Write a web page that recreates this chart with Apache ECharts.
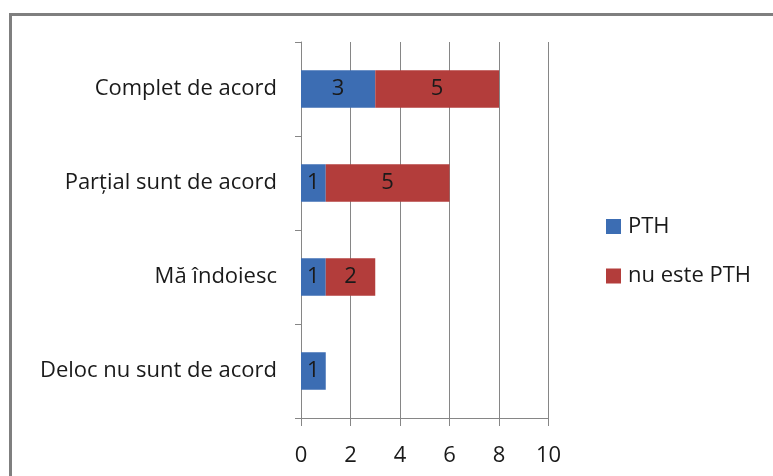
<!DOCTYPE html>
<html>
<head>
<meta charset="utf-8">
<script src="https://cdn.jsdelivr.net/npm/echarts@6/dist/echarts.min.js"></script>
<style>
html,body{margin:0;padding:0;background:#fff;}
#c{width:773px;height:476px;}
</style>
</head>
<body>
<div id="c"></div>
<script>
var categories = ['Complet de acord', 'Parțial sunt de acord', 'Mă îndoiesc', 'Deloc nu sunt de acord'];
var pthValues = [3, 1, 1, 1];
var nuPthValues = [5, 5, 2, null];
var xTicks = [0, 2, 4, 6, 8, 10];

var FONT = '"Open Sans", sans-serif';
var FS = 22;
var chart = echarts.init(document.getElementById('c'), null, {renderer: 'canvas'});
chart.setOption({
  animation: false,
  backgroundColor: '#fff',
  graphic: [{
    type: 'rect',
    left: 8, top: 12,
    shape: {width: 820, height: 520},
    style: {fill: 'none', stroke: '#7f7f7f', lineWidth: 3},
    silent: true
  }],
  grid: {left: 301, right: 224.5, top: 42, bottom: 58, containLabel: false},
  legend: {
    orient: 'vertical',
    left: 601, top: 210.5,
    itemWidth: 15, itemHeight: 15, itemGap: 27.5,
    icon: 'rect',
    textStyle: {fontFamily: FONT, fontSize: FS, color: '#1a1a1a', lineHeight: 15, padding: [0, 0, 0, 2]},
    data: ['PTH', 'nu este PTH']
  },
  xAxis: {
    type: 'value', min: xTicks[0], max: xTicks[xTicks.length - 1], interval: 2,
    axisLine: {show: true, lineStyle: {color: '#868686', width: 1}},
    axisTick: {show: true, length: 8, lineStyle: {color: '#868686'}},
    splitLine: {show: true, lineStyle: {color: '#868686', width: 1}},
    axisLabel: {fontFamily: FONT, fontSize: FS, color: '#1a1a1a', margin: 27}
  },
  yAxis: {
    type: 'category', inverse: true, data: categories,
    axisLine: {show: true, lineStyle: {color: '#868686', width: 1}},
    axisTick: {show: true, length: 6, lineStyle: {color: '#868686'}},
    axisLabel: {fontFamily: FONT, fontSize: FS, color: '#1a1a1a', margin: 24}
  },
  series: [{
    name: 'PTH', type: 'bar', stack: 's', data: pthValues,
    barCategoryGap: '60%',
    itemStyle: {color: '#3c6db3'},
    label: {show: true, position: 'inside', fontFamily: FONT, fontSize: FS, color: '#1a1a1a'}
  }, {
    name: 'nu este PTH', type: 'bar', stack: 's', data: nuPthValues,
    itemStyle: {color: '#b33d3b'},
    label: {show: true, position: 'inside', fontFamily: FONT, fontSize: FS, color: '#1a1a1a'}
  }]
});
</script>
</body>
</html>
